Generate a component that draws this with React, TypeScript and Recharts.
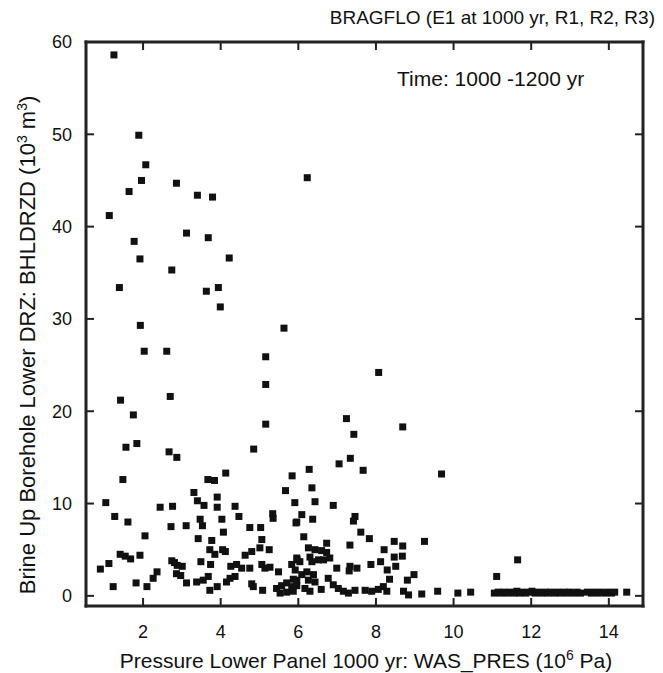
import { Scatter, ScatterChart, XAxis, YAxis } from 'recharts';

// WAS_PRES (10^6 Pa) and BHLDRZD (10^3 m^3)
const wasPres = [
  1.25, 1.89, 2.07, 1.96, 1.64, 2.86, 3.4, 3.79, 1.13, 3.12, 3.68, 1.77, 1.92, 4.22, 2.74, 1.39,
  3.94, 3.63, 3.99, 1.93, 5.63, 6.23, 2.03, 2.61, 5.16, 5.16, 2.7, 1.42, 8.07,
  1.75, 5.16, 1.56, 1.84, 2.67, 2.87, 4.85, 1.48, 3.67, 3.84, 4.13, 1.04, 7.24, 8.69, 7.43, 7.34,
  7.05, 7.67, 6.28, 5.84, 9.69, 3.31, 5.67, 6.35, 3.4, 3.91, 5.91, 6.43,
  2.44, 2.76, 1.27, 1.61, 2.72, 3.11, 2.05, 1.41, 1.54, 1.68, 1.92, 0.9, 1.12, 1.23, 1.82, 2.1,
  2.26, 2.36, 2.74, 2.81, 2.88, 3.01, 2.86, 2.97, 3.12,
  3.57, 3.91, 4.37, 4.47, 4.03, 5.34, 5.35, 5.94, 3.47, 3.53, 4.07, 4.75, 5.03, 5.06, 3.42, 3.77,
  3.72, 3.85, 4.05, 4.12, 4.63, 4.8, 5.01, 5.25, 3.49, 3.74, 4.26, 4.41, 4.54, 4.75, 5.06, 5.14,
  5.27, 5.49, 5.83, 5.97, 3.38, 3.55, 3.68, 4.24, 4.37, 4.15, 3.72, 3.91, 4.8, 4.84, 5.08, 5.44,
  5.57, 5.7, 5.83, 5.96, 5.53, 5.7, 6.14,
  6.9, 6.09, 5.96, 6.37, 7.46, 7.42, 7.61, 7.83, 8.47, 7.33, 6.73, 6.26, 6.43, 6.6, 6.73, 8.21,
  8.47, 5.96, 6.04, 6.3, 6.35, 6.52, 6.65, 6.81, 6.99, 7.33, 7.51, 7.31, 7.87, 8.12, 8.29, 8.35,
  5.92, 5.87, 6.09, 6.22, 6.26, 6.39, 6.43, 5.96, 5.87, 6.17, 6.3, 6.59, 6.77, 6.9, 7.03, 7.16,
  7.29, 7.46, 7.72, 7.89, 8.06, 8.19, 8.28,
  8.69, 9.25, 8.68, 8.51, 8.98, 8.81, 8.71, 8.84, 9.18, 9.59, 10.11, 10.44, 11.11, 11.65,
  11.05, 11.15, 11.22, 11.3, 11.38, 11.46, 11.55, 11.63, 11.7, 11.78, 11.86, 11.95, 12.02, 12.1,
  12.18, 12.27, 12.35, 12.43, 12.5, 12.6, 12.68, 12.76, 12.85, 12.93, 13.0, 13.1, 13.18, 13.27,
  13.45, 13.55, 13.63, 13.72, 13.8, 13.9, 13.98, 14.07, 14.15, 14.46,
];

const bhldrzd = [
  58.6, 49.9, 46.7, 45.0, 43.8, 44.7, 43.4, 43.2, 41.2, 39.3, 38.8, 38.4, 36.5, 36.6, 35.3, 33.4,
  33.4, 33.0, 31.3, 29.3, 29.0, 45.3, 26.5, 26.5, 25.9, 22.9, 21.6, 21.2, 24.2,
  19.6, 18.6, 16.1, 16.5, 15.6, 15.0, 15.9, 12.6, 12.6, 12.5, 13.3, 10.1, 19.2, 18.3, 17.5, 14.9,
  14.3, 13.6, 13.7, 13.0, 13.2, 11.2, 11.4, 11.7, 10.3, 10.7, 10.1, 10.2,
  9.6, 9.7, 8.6, 8.0, 7.5, 7.6, 6.5, 4.5, 4.3, 4.0, 4.4, 2.9, 3.5, 1.0, 1.4, 1.0,
  1.9, 2.6, 3.8, 3.6, 3.3, 3.2, 2.4, 2.2, 1.4,
  9.8, 9.6, 9.7, 8.6, 8.3, 8.9, 8.4, 7.9, 8.3, 7.6, 6.9, 7.4, 7.4, 6.1, 6.2, 6.0,
  5.0, 4.5, 5.0, 4.8, 4.4, 4.8, 5.2, 5.0, 3.7, 3.4, 3.2, 3.4, 3.0, 3.0, 3.4, 3.0,
  3.1, 2.6, 3.4, 3.9, 1.5, 1.7, 2.1, 1.9, 2.1, 1.5, 0.6, 1.0, 1.3, 1.0, 0.6, 0.8,
  1.1, 1.4, 1.0, 1.7, 0.3, 0.4, 6.4,
  9.8, 8.8, 8.0, 8.3, 8.6, 8.1, 6.9, 6.2, 5.9, 5.5, 5.7, 5.2, 5.0, 4.9, 4.7, 5.0,
  4.2, 4.1, 3.7, 4.2, 3.7, 3.9, 3.9, 4.1, 3.0, 3.2, 3.0, 2.7, 3.4, 3.7, 2.8, 1.8,
  2.8, 1.8, 2.3, 2.6, 1.7, 2.3, 1.5, 1.1, 0.5, 0.8, 0.5, 0.7, 1.9, 1.2, 0.8, 0.5,
  0.3, 0.6, 0.6, 0.5, 0.7, 1.0, 0.5,
  5.4, 5.9, 4.3, 3.2, 2.3, 1.7, 0.5, 0.1, 0.2, 0.5, 0.3, 0.4, 2.1, 3.9,
  0.3, 0.4, 0.3, 0.4, 0.3, 0.4, 0.3, 0.5, 0.3, 0.4, 0.3, 0.4, 0.5, 0.3,
  0.4, 0.3, 0.4, 0.3, 0.4, 0.3, 0.4, 0.3, 0.4, 0.3, 0.4, 0.3, 0.4, 0.3,
  0.4, 0.3, 0.4, 0.3, 0.4, 0.3, 0.4, 0.3, 0.4, 0.4,
];

const xTicks = [2, 4, 6, 8, 10, 12, 14];
const yTicks = [0, 10, 20, 30, 40, 50, 60];
const rightTicks = [0, 10, 20, 30, 40, 50];

const points = wasPres.map((x, i) => ({ x, y: bhldrzd[i] }));

const font = '"Liberation Sans", Arial, Helvetica, sans-serif';
const ink = '#111';
const frameInk = '#222';
const xMin = 0.53;
const xMax = 14.88;
const yMin = -1.1;
const yMax = 60;

// chart box
const W = 655;
const H = 665;
const margin = { top: 34, right: 20, bottom: 27, left: 0 };
const yAxisW = 78;
const xAxisH = 40;
const plotL = margin.left + yAxisW;
const plotT = margin.top;
const plotW = W - plotL - margin.right;
const plotH = H - plotT - xAxisH - margin.bottom;
const frameW = 3;

// inward tick marks, placed through the axes' scales
const bottomTicks = xTicks.map((t) => ({ x: t, y: yMin }));
const topTicks = xTicks.map((t) => ({ x: t, y: yMax }));
const leftTicks = yTicks.map((t) => ({ x: xMin, y: t }));
const rightTickPts = rightTicks.map((t) => ({ x: xMax, y: t }));

const tickText = { fill: ink, fontSize: 18, fontFamily: font };

function SquareDot(props: any) {
  const { cx, cy } = props;
  return <rect x={cx - 3.5} y={cy - 3.5} width={7} height={7} fill={ink} />;
}

const TickUp = (p: any) => <rect x={p.cx - 1} y={p.cy - 8} width={2} height={8} fill={frameInk} />;
const TickDown = (p: any) => <rect x={p.cx - 1} y={p.cy} width={2} height={8} fill={frameInk} />;
const TickRight = (p: any) => <rect x={p.cx} y={p.cy - 1} width={8} height={2} fill={frameInk} />;
const TickLeft = (p: any) => <rect x={p.cx - 8} y={p.cy - 1} width={8} height={2} fill={frameInk} />;

export default function App() {
  return (
    <ScatterChart width={W} height={H} margin={margin}>
      <XAxis
        type="number"
        dataKey="x"
        domain={[xMin, xMax]}
        ticks={xTicks}
        interval={0}
        allowDataOverflow
        height={xAxisH}
        tickSize={-7}
        tickMargin={26}
        axisLine={false}
        tickLine={false}
        tick={tickText}
      />
      <YAxis
        type="number"
        dataKey="y"
        domain={[yMin, yMax]}
        ticks={yTicks}
        interval={0}
        allowDataOverflow
        width={yAxisW}
        tickSize={-7}
        tickMargin={21}
        axisLine={false}
        tickLine={false}
        tick={tickText}
      />

      {/* plot frame */}
      <rect x={plotL - frameW / 2} y={plotT - frameW / 2} width={plotW + frameW} height={frameW} fill={frameInk} />
      <rect x={plotL - frameW / 2} y={plotT + plotH - frameW / 2} width={plotW + frameW} height={frameW} fill={frameInk} />
      <rect x={plotL - frameW / 2} y={plotT - frameW / 2} width={frameW} height={plotH + frameW} fill={frameInk} />
      <rect x={plotL + plotW - frameW / 2} y={plotT - frameW / 2} width={frameW} height={plotH + frameW} fill={frameInk} />

      <Scatter data={bottomTicks} shape={TickUp} isAnimationActive={false} />
      <Scatter data={topTicks} shape={TickDown} isAnimationActive={false} />
      <Scatter data={leftTicks} shape={TickRight} isAnimationActive={false} />
      <Scatter data={rightTickPts} shape={TickLeft} isAnimationActive={false} />
      <Scatter data={points} shape={SquareDot} isAnimationActive={false} />

      <text x={647} y={16} textAnchor="end" fontSize={19} fontFamily={font} fill={ink}>
        BRAGFLO (E1 at 1000 yr, R1, R2, R3)
      </text>
      <text x={389} y={78} fontSize={21} fontFamily={font} fill={ink}>
        Time: 1000 -1200 yr
      </text>
      <text x={358} y={660} textAnchor="middle" fontSize={21} fontFamily={font} fill={ink}>
        Pressure Lower Panel 1000 yr: WAS_PRES (10
        <tspan dy={-8} fontSize={14}>6</tspan>
        <tspan dy={8}> Pa)</tspan>
      </text>
      <text
        transform="translate(27, 337) rotate(-90)"
        textAnchor="middle"
        fontSize={22}
        fontFamily={font}
        fill={ink}
      >
        Brine Up Borehole Lower DRZ: BHLDRZD (10
        <tspan dy={-8} fontSize={14}>3</tspan>
        <tspan dy={8}> m</tspan>
        <tspan dy={-8} fontSize={14}>3</tspan>
        <tspan dy={8}>)</tspan>
      </text>
    </ScatterChart>
  );
}
